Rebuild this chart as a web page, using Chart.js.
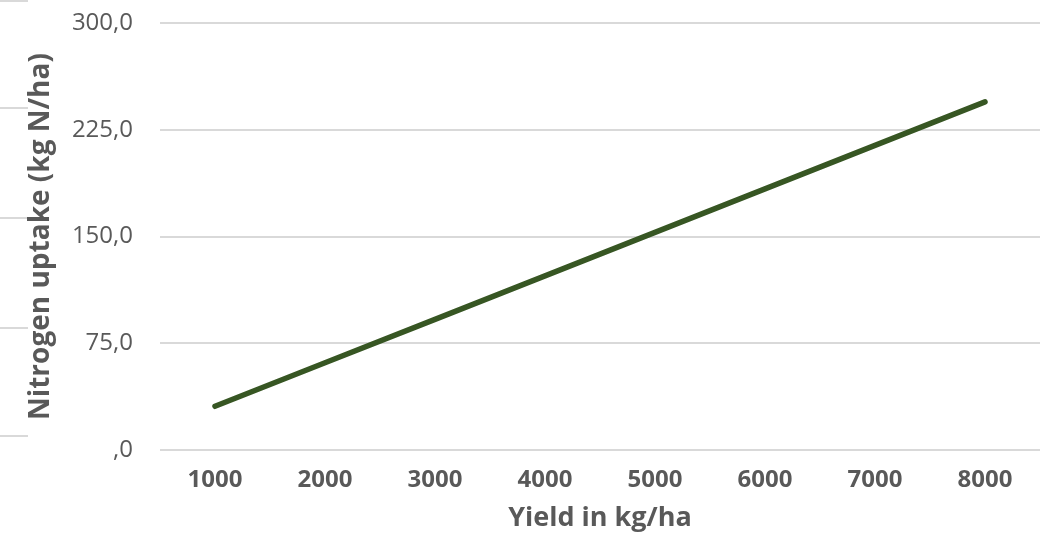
<!DOCTYPE html>
<html>
<head>
<meta charset="utf-8">
<script src="https://cdn.jsdelivr.net/npm/chart.js@4/dist/chart.umd.min.js"></script>
<style>
  html, body { margin: 0; padding: 0; background: #fff; overflow: hidden; }
  #wrap { position: relative; width: 1045px; height: 533px; overflow: hidden; }
  .stub { position: absolute; left: 0; width: 28px; height: 2px; background: #d9d9d9; }
  canvas { display: block; position: absolute; left: 0; top: -18px; }
</style>
</head>
<body>
<div id="wrap">
  <div class="stub" style="top:0px"></div>
  <div class="stub" style="top:107px"></div>
  <div class="stub" style="top:217px"></div>
  <div class="stub" style="top:327px"></div>
  <div class="stub" style="top:435px"></div>
  <canvas id="chart" width="1045" height="553"></canvas>
</div>
<script>
// yield classes (kg/ha) and the nitrogen uptake
const yieldLabels = ['1000', '2000', '3000', '4000', '5000', '6000', '7000', '8000']
const nUptake = [30.6, 61.2, 91.8, 122.4, 153.0, 183.6, 214.2, 244.8]

const GRID = '#d9d9d9'
const TEXT = '#595959'

const fmtComma = (v) => {
  if (v === 0) return ',0'
  return v.toFixed(1).replace('.', ',')
}

const ctx = document.getElementById('chart')
new Chart(ctx, {
  type: 'line',
  data: {
    labels: yieldLabels,
    datasets: [{
      label: 'Nitrogen uptake',
      data: nUptake,
      borderColor: '#375623',
      borderWidth: 5.5,
      borderCapStyle: 'round',
      pointRadius: 0,
      fill: false,
      tension: 0
    }]
  },
  options: {
    responsive: false,
    animation: false,
    layout: { padding: { left: 24, right: 5, top: 0, bottom: 0 } },
    plugins: {
      legend: { display: false },
      tooltip: { enabled: false }
    },
    scales: {
      x: {
        offset: true,
        grid: { display: false },
        border: { display: false },
        ticks: {
          color: TEXT,
          padding: 8,
          font: { family: 'Open Sans', size: 24, weight: 'bold' }
        },
        title: {
          display: true,
          text: 'Yield in kg/ha',
          color: TEXT,
          padding: { top: 0, bottom: 0 },
          font: { family: 'Open Sans', size: 27, weight: 'bold' }
        }
      },
      y: {
        min: 0,
        max: 300,
        afterFit: (scale) => { scale.width = 136 },
        grid: { color: GRID, lineWidth: 2, drawTicks: false },
        border: { display: false },
        ticks: {
          stepSize: 75,
          color: TEXT,
          padding: 27,
          font: { family: 'Open Sans', size: 24 },
          callback: (v) => fmtComma(v)
        },
        title: {
          display: true,
          text: 'Nitrogen uptake (kg N/ha)',
          color: TEXT,
          padding: { top: 0, bottom: 0 },
          font: { family: 'Open Sans', size: 28, weight: 'bold' }
        }
      }
    }
  }
})
</script>
</body>
</html>
